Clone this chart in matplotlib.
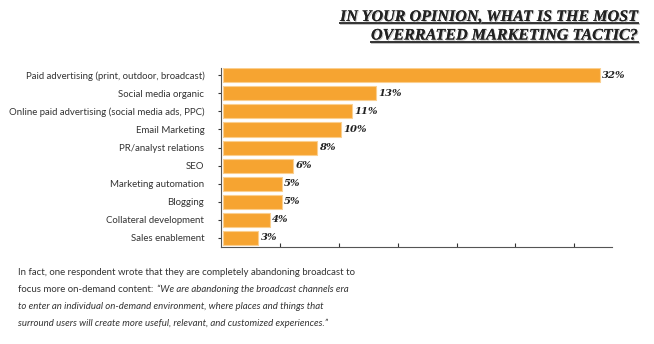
import matplotlib
matplotlib.use("Agg")
import matplotlib.pyplot as plt
import matplotlib.patheffects as pe

categories = ["Paid advertising (print, outdoor, broadcast)", "Social media organic",
              "Online paid advertising (social media ads, PPC)", "Email Marketing",
              "PR/analyst relations", "SEO", "Marketing automation", "Blogging",
              "Collateral development", "Sales enablement"]
values = [32, 13, 11, 10, 8, 6, 5, 5, 4, 3]
title_lines = ["IN YOUR OPINION, WHAT IS THE MOST", "OVERRATED MARKETING TACTIC?"]
para_line1 = "In fact, one respondent wrote that they are completely abandoning broadcast to"
para_line2a = "focus more on-demand content: "
para_line2b = "\u201cWe are abandoning the broadcast channels era"
para_line3 = "to enter an individual on-demand environment, where places and things that"
para_line4 = "surround users will create more useful, relevant, and customized experiences.\u201d"

W, H = 654, 344
fig = plt.figure(figsize=(W / 100, H / 100), dpi=100)
fig.patch.set_facecolor("white")

ax = fig.add_axes([221 / W, 1 - 247 / H, (612 - 221) / W, (247 - 68) / H])
y = list(range(len(categories)))
ax.barh(y, values, height=0.78, color="#F6A431", edgecolor="#FBCF8F", linewidth=0.8, left=0.15)
ax.set_xlim(0, 33.2)
ax.set_ylim(9.5, -0.4)
ax.set_yticks(y)
ax.set_yticklabels(categories, fontsize=6.9, color="#333333", family="Lato")
ax.tick_params(axis="y", length=2.5, width=0.8, color="#333333", pad=9.5, direction="out")
ax.set_xticks([5, 10, 15, 20, 25, 30])
ax.set_xticklabels([])
ax.tick_params(axis="x", length=3, width=0.8, color="#333333", direction="in")
for s in ["top", "right"]:
    ax.spines[s].set_visible(False)
for s in ["left", "bottom"]:
    ax.spines[s].set_color("#555555")
    ax.spines[s].set_linewidth(0.8)
for yi, v in zip(y, values):
    ax.text(v + 0.35, yi, f"{v}%", va="center", ha="left", fontsize=7.2,
            family="DejaVu Serif", style="italic", weight="bold", color="#222222")

shadow = [pe.withSimplePatchShadow(offset=(0.8, -0.8), shadow_rgbFace="#999999", alpha=0.6), pe.Normal()]
title_texts = []
for i, line in enumerate(title_lines):
    t = fig.text(638 / W, 1 - (21 + 18.5 * i) / H, line, ha="right", va="baseline",
                 fontsize=11.6, family="Liberation Serif", style="italic", weight="bold",
                 color="#222222", path_effects=shadow)
    title_texts.append(t)

pfs = 6.95
pcol = "#333333"
x0 = 18 / W
fig.text(x0, 1 - 275 / H, para_line1, fontsize=pfs, family="Lato", color=pcol, va="baseline")
t2 = fig.text(x0, 1 - 292 / H, para_line2a, fontsize=pfs, family="Lato", color=pcol, va="baseline")
fig.text(x0, 1 - 309 / H, para_line3, fontsize=pfs, family="Lato", style="italic", color=pcol, va="baseline")
fig.text(x0, 1 - 326 / H, para_line4, fontsize=pfs, family="Lato", style="italic", color=pcol, va="baseline")

fig.canvas.draw()
r = fig.canvas.get_renderer()
bb = t2.get_window_extent(r)
fig.text(bb.x1 / W + 1 / W, 1 - 292 / H, para_line2b, fontsize=pfs, family="Lato", style="italic",
         color=pcol, va="baseline")
for i, t in enumerate(title_texts):
    b = t.get_window_extent(r)
    yl = 1 - (23 + 18.5 * i) / H
    fig.add_artist(plt.Line2D([b.x0 / W, b.x1 / W], [yl, yl], color="#333333", lw=1.4,
                              path_effects=[pe.SimpleLineShadow(offset=(0.8, -0.8), shadow_color="#999999", alpha=0.6), pe.Normal()]))

fig.savefig("out.png", dpi=100)
